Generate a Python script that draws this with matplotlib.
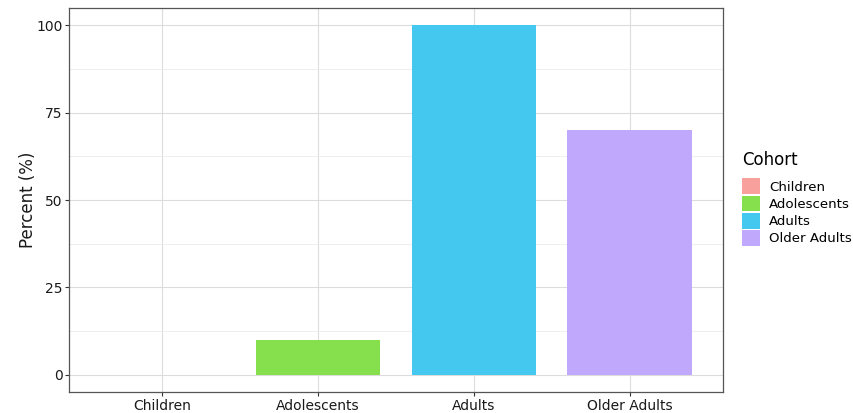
import matplotlib.pyplot as plt
from matplotlib.patches import Patch

cohorts = ["Children", "Adolescents", "Adults", "Older Adults"]
percent = [0, 10, 100, 70]
colors = ["#F8A09B", "#86DF4C", "#45C8F0", "#C0A8FC"]

fig = plt.figure(figsize=(8.54, 4.13), dpi=100)
ax = fig.add_axes([0.0808, 0.0508, 0.7658, 0.9298])

x = list(range(1, len(cohorts) + 1))
ax.bar(x, percent, width=0.8, color=colors, zorder=3)

ax.set_xlim(0.4, 4.6)
ax.set_ylim(-5, 105)
ax.set_xticks(x)
ax.set_xticklabels(cohorts, fontsize=10, color="#1a1a1a")
ax.set_yticks([0, 25, 50, 75, 100])
ax.set_yticks([12.5, 37.5, 62.5, 87.5], minor=True)
ax.tick_params(axis="y", labelsize=10, labelcolor="#1a1a1a")
ax.tick_params(which="major", length=2.7, color="#333333", width=0.8, pad=2)
ax.tick_params(which="minor", length=0)

ax.grid(True, which="major", color="#DCDCDC", linewidth=0.8, zorder=0)
ax.grid(True, which="minor", axis="y", color="#EBEBEB", linewidth=0.6, zorder=0)
for s in ax.spines.values():
    s.set_color("#555555")
    s.set_linewidth(0.9)

ax.set_ylabel("Percent (%)", fontsize=12, color="#1a1a1a", labelpad=-1)

handles = [Patch(facecolor=c, edgecolor="none", label=l) for c, l in zip(colors, cohorts)]
leg = fig.legend(handles=handles, title="Cohort", loc="upper left",
                 bbox_to_anchor=(0.869, 0.635), frameon=False, fontsize=9.6,
                 title_fontsize=12, handlelength=1.35, handleheight=1.45,
                 handletextpad=0.65, labelspacing=0.1, borderpad=0,
                 borderaxespad=0)
leg._legend_box.align = "left"
leg._legend_box.sep = 7

fig.savefig("out.png", dpi=100)
